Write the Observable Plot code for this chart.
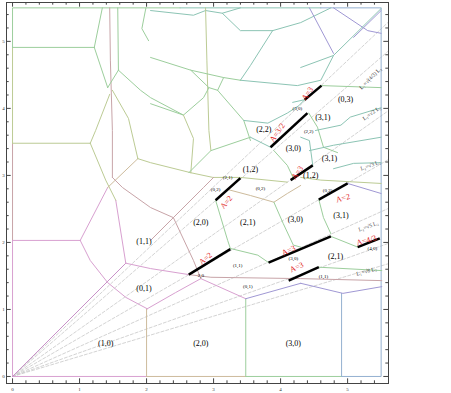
<!DOCTYPE html>
<html><head><meta charset="utf-8">
<script src="https://cdn.jsdelivr.net/npm/d3@7"></script>
<script src="https://cdn.jsdelivr.net/npm/@observablehq/plot@0.6"></script>
<style>body{margin:0;background:#fff}</style>
</head><body><div id="chart"></div>
<script>
const majorTicks=[0,1,2,3,4,5];
const minorTicks=[0.2,0.4,0.6,0.8,1.2,1.4,1.6,1.8,2.2,2.4,2.6,2.8,3.2,3.4,3.6,3.8,4.2,4.4,4.6,4.8,5.2,5.4];
const rayK=["9/8","4/3","2","3","5","8","11"];
const raySlope=[0.943,0.866,0.707,0.577,0.447,0.354,0.30];
// colours
const pk="#d8a0d0",mv="#c8a4a8",tn="#cdbb9c",ol="#bccb94",gr="#9cce9c",tl="#8cc4b4",bl="#94b0d0",pu="#a098d4";
const edges=[
 {c:pk,p:[[0,0],[0,2.03]]},
 {c:mv,p:[[0,2.03],[0,3.48]]},
 {c:ol,p:[[0,3.48],[0,4.91]]},
 {c:gr,p:[[0,4.91],[0,5.5],[2.5,5.5]]},
 {c:tl,p:[[2.5,5.5],[4.6,5.5]]},
 {c:bl,p:[[4.6,5.5],[5.5,5.5],[5.5,0],[4.91,0]]},
 {c:gr,p:[[4.91,0],[3.48,0]]},
 {c:tn,p:[[3.48,0],[2.0,0]]},
 {c:pk,p:[[2.0,0],[0,0]]},
 {c:gr,p:[[0,4.91],[1.22,4.91]]},
 {c:ol,p:[[0,3.48],[1.16,3.48]]},
 {c:pk,p:[[0,2.03],[1.01,2.03]]},
 {c:"#c890c8",p:[[0,0],[1.69,1.69]]},
 {c:tn,p:[[2.0,0],[2.0,1.01]]},
 {c:gr,p:[[3.48,0],[3.48,1.16]]},
 {c:bl,p:[[4.91,0],[4.91,1.24]]},
 {c:pk,p:[[1.01,2.03],[1.16,1.73],[1.42,1.40],[1.69,1.18],[2.01,1.01]]},
 {c:pk,p:[[1.69,1.69],[2.06,1.61],[2.63,1.52]]},
 {c:pk,p:[[2.01,1.01],[2.43,1.25],[2.81,1.46]]},
 {c:pk,p:[[2.81,1.46],[3.48,1.16]]},
 {c:pu,p:[[3.48,1.16],[4.30,1.39]]},
 {c:mv,p:[[2.63,1.52],[2.96,1.48],[4.30,1.46],[5.51,1.43]]},
 {c:pu,p:[[4.30,1.39],[4.93,1.24],[5.51,1.34]]},
 {c:gr,p:[[4.57,1.63],[5.51,1.58]]},
 {c:pk,p:[[1.69,1.69],[1.54,2.63]]},
 {c:mv,p:[[2.40,2.37],[2.70,1.73],[2.81,1.46]]},
 {c:pk,p:[[1.01,2.03],[1.42,2.82]]},
 {c:ol,p:[[1.16,3.48],[1.39,2.93],[1.54,2.63]]},
 {c:tn,p:[[1.87,3.25],[1.42,2.82]]},
 {c:mv,p:[[1.45,5.5],[1.46,4.72],[1.49,3.67],[1.49,2.97]]},
 {c:mv,p:[[1.49,2.97],[1.64,2.82],[2.06,2.52],[2.40,2.37]]},
 {c:ol,p:[[1.16,3.48],[1.24,3.67],[1.45,4.21]]},
 {c:gr,p:[[1.22,4.91],[1.42,4.31]]},
 {c:gr,p:[[1.22,4.91],[1.34,5.5]]},
 {c:ol,p:[[1.49,4.27],[1.73,3.85],[1.87,3.25]]},
 {c:gr,p:[[1.58,4.57],[1.91,4.27],[2.06,4.16],[2.55,3.90]]},
 {c:gr,p:[[1.58,4.57],[1.57,5.5]]},
 {c:gr,p:[[1.42,4.31],[1.58,4.57]]},
 {c:gr,p:[[1.99,5.5],[1.93,5.19],[2.03,5.01]]},
 {c:ol,p:[[1.87,3.25],[2.06,3.19],[2.66,3.04]]},
 {c:tl,p:[[2.06,5.46],[2.70,5.39],[2.88,5.46],[3.13,5.42],[3.40,5.5]]},
 {c:ol,p:[[2.88,5.5],[2.90,4.72],[2.93,3.67],[2.96,3.37]]},
 {c:tl,p:[[3.13,5.42],[3.40,5.16],[3.88,5.16]]},
 {c:tl,p:[[3.88,5.16],[4.30,5.28],[4.75,5.5]]},
 {c:tl,p:[[3.88,5.16],[3.55,4.64],[3.40,4.42]]},
 {c:tl,p:[[3.40,4.42],[4.25,4.34],[4.60,4.42],[4.79,4.79]]},
 {c:gr,p:[[2.06,4.76],[2.66,4.57],[3.15,4.46],[3.40,4.42]]},
 {c:gr,p:[[2.66,4.57],[2.93,4.31],[2.85,4.16],[2.55,3.90],[2.06,4.07]]},
 {c:gr,p:[[2.93,4.31],[3.06,4.27],[3.15,4.46]]},
 {c:gr,p:[[3.06,4.27],[3.45,3.82],[3.55,3.52]]},
 {c:tl,p:[[3.45,3.82],[3.81,3.78],[4.10,3.93],[4.27,4.04],[4.36,4.13]]},
 {c:ol,p:[[2.55,3.90],[2.70,3.55],[2.66,3.04]]},
 {c:gr,p:[[2.63,3.04],[2.96,3.37],[3.55,3.57]]},
 {c:ol,p:[[2.66,3.04],[2.99,2.97],[3.40,2.97],[4.10,2.90]]},
 {c:mv,p:[[3.0,2.97],[2.85,2.82],[2.40,2.37],[2.06,2.03]]},
 {c:gr,p:[[3.03,2.63],[3.21,2.03],[3.25,1.91]]},
 {c:gr,p:[[3.25,1.91],[3.66,1.81],[3.82,1.70]]},
 {c:tn,p:[[3.21,2.79],[3.55,2.70],[3.90,2.60],[4.10,2.73],[4.30,2.85]]},
 {c:gr,p:[[3.90,2.60],[4.04,2.28],[4.19,1.96],[4.30,1.93]]},
 {c:gr,p:[[3.90,3.37],[4.10,3.15],[4.19,2.96]]},
 {c:tl,p:[[3.55,3.57],[3.85,3.42]]},
 {c:tl,p:[[4.18,4.09],[4.36,4.13]]},
 {c:gr,p:[[4.42,3.93],[4.55,3.72],[4.64,3.42],[4.85,3.34]]},
 {c:tl,p:[[4.52,3.67],[4.90,3.75],[5.04,3.87],[5.5,4.01]]},
 {c:gr,p:[[4.61,4.34],[5.5,4.31]]},
 {c:pu,p:[[4.43,5.5],[4.79,4.82]]},
 {c:pu,p:[[4.79,5.5],[5.30,5.16],[5.5,5.12]]},
 {c:pu,p:[[5.09,5.06],[5.5,5.46]]},
 {c:tl,p:[[4.30,4.61],[4.79,4.79],[5.5,5.49]]},
 {c:tl,p:[[4.48,3.15],[4.43,3.52],[4.30,3.57]]},
 {c:tl,p:[[4.43,3.37],[4.79,3.45],[5.5,3.57]]},
 {c:tl,p:[[4.79,3.10],[5.09,3.18],[5.5,3.19]]},
 {c:ol,p:[[4.30,2.97],[4.60,2.93],[5.5,2.88]]},
 {c:pu,p:[[5.0,2.88],[5.5,2.73]]},
 {c:gr,p:[[4.57,2.64],[4.64,2.37],[4.75,2.13]]},
 {c:gr,p:[[4.75,2.09],[5.15,1.93]]}
];
const cellLabels=[
 {t:"(1,0)",x:1.39,y:0.49,s:8},{t:"(2,0)",x:2.81,y:0.49,s:8},{t:"(3,0)",x:4.19,y:0.49,s:8},
 {t:"(0,1)",x:1.96,y:1.31,s:8},{t:"(1,1)",x:1.96,y:2.01,s:8},
 {t:"(2,0)",x:2.81,y:2.30,s:8},{t:"(2,1)",x:3.51,y:2.30,s:8},{t:"(3,0)",x:4.22,y:2.34,s:8},
 {t:"(3,1)",x:4.90,y:2.40,s:8},{t:"(2,1)",x:4.82,y:1.79,s:8},
 {t:"(1,2)",x:3.55,y:3.09,s:8},{t:"(1,2)",x:4.45,y:3.0,s:8},{t:"(3,1)",x:4.73,y:3.25,s:8},
 {t:"(3,0)",x:4.19,y:3.40,s:8},{t:"(2,2)",x:3.75,y:3.69,s:8},{t:"(3,1)",x:4.63,y:3.87,s:8},
 {t:"(0,3)",x:4.97,y:4.13,s:8},
 {t:"(2,1)",x:3.21,y:2.97,s:5},{t:"(0,2)",x:3.03,y:2.79,s:5},{t:"(0,2)",x:3.70,y:2.81,s:5},
 {t:"(0,2)",x:4.70,y:2.78,s:5},{t:"(3,0)",x:4.25,y:4.0,s:5},{t:"(2,2)",x:4.42,y:3.66,s:5},
 {t:"(1,1)",x:3.36,y:1.66,s:5},{t:"2,0",x:2.81,y:1.51,s:5},{t:"(0,1)",x:3.51,y:1.34,s:5},
 {t:"(1,1)",x:4.64,y:1.49,s:5},{t:"(3,0)",x:4.19,y:1.76,s:5},{t:"(4,0)",x:5.37,y:1.91,s:5}
];
const aSegs=[
 {x1:3.03,y1:2.63,x2:3.40,y2:2.96},{x1:3.85,y1:3.42,x2:4.40,y2:3.93},{x1:4.36,y1:4.13,x2:4.61,y2:4.34},
 {x1:4.15,y1:2.93,x2:4.48,y2:3.15},{x1:4.57,y1:2.64,x2:5.0,y2:2.88},{x1:5.15,y1:1.93,x2:5.48,y2:2.06},
 {x1:3.82,y1:1.70,x2:4.75,y2:2.09},{x1:4.12,y1:1.43,x2:4.57,y2:1.63},{x1:2.63,y1:1.52,x2:3.25,y2:1.90}
];
const aLabels=[
 {t:"A=2",x:3.19,y:2.60,r:-50},{t:"A=3/2",x:3.95,y:3.64,r:-55},{t:"A=3",x:4.40,y:4.22,r:-55},
 {t:"A=3",x:4.25,y:3.04,r:-55},{t:"A=2",x:4.93,y:2.66,r:-15},{t:"A=4/3",x:5.28,y:2.03,r:-15},
 {t:"A=3",x:4.12,y:1.88,r:-25},{t:"A=3",x:4.24,y:1.63,r:-25},{t:"A=2",x:2.88,y:1.76,r:-40}
];
const rayLabels=[
 {t:"L₁=√(4/3) L₂",x:5.34,y:4.45,r:-45},{t:"L₁=√2 L₂",x:5.36,y:3.93,r:-35},
 {t:"L₁=√3 L₂",x:5.34,y:3.15,r:-20},{t:"L₁=√5 L₂",x:5.31,y:2.24,r:-20},{t:"L₁=√8 L₂",x:5.28,y:1.57,r:-15}
];
const rows=[];
edges.forEach((e,i)=>e.p.forEach(([x,y])=>rows.push({x,y,id:i,c:e.c})));
const rays=[];
raySlope.forEach((s,i)=>{rays.push({x:0,y:0,id:i});rays.push({x:6,y:6*s,id:i});});
const xmin=-0.09,xmax=5.61,ymin=-0.105,ymax=5.58;
const chart=Plot.plot({
 width:451,height:393,marginLeft:6,marginRight:63,marginTop:2,marginBottom:10,
 x:{domain:[xmin,xmax],axis:null},y:{domain:[ymin,ymax],axis:null},
 style:{fontFamily:"Liberation Serif",background:"#fff"},
 marks:[
  Plot.line(rays,{x:"x",y:"y",z:"id",stroke:"#c8c8c8",strokeDasharray:"3,2",strokeWidth:0.8,clip:true}),
  Plot.line(rows,{x:"x",y:"y",z:"id",stroke:"c",strokeWidth:1,curve:"linear"}),
  Plot.link(aSegs,{x1:"x1",y1:"y1",x2:"x2",y2:"y2",stroke:"#000",strokeWidth:2.5}),
  Plot.text(aLabels,{x:"x",y:"y",text:"t",rotate:"r",fill:"#e02020",fontSize:8}),
  Plot.text(cellLabels,{x:"x",y:"y",text:"t",fontSize:d=>d.s,fill:"black"}),
  Plot.text(rayLabels,{x:"x",y:"y",text:"t",rotate:"r",fontSize:5.5,fill:"#333"}),
  Plot.frame({stroke:"#444",strokeWidth:1}),
  Plot.ruleX(majorTicks,{x:d=>d,y1:ymin,y2:ymin+0.07,stroke:"#444"}),
  Plot.ruleX(minorTicks,{x:d=>d,y1:ymin,y2:ymin+0.04,stroke:"#444"}),
  Plot.ruleX(majorTicks,{x:d=>d,y1:ymax,y2:ymax-0.07,stroke:"#444"}),
  Plot.ruleX(minorTicks,{x:d=>d,y1:ymax,y2:ymax-0.04,stroke:"#444"}),
  Plot.ruleY(majorTicks,{y:d=>d,x1:xmin,x2:xmin+0.07,stroke:"#444"}),
  Plot.ruleY(minorTicks,{y:d=>d,x1:xmin,x2:xmin+0.04,stroke:"#444"}),
  Plot.ruleY(majorTicks,{y:d=>d,x1:xmax,x2:xmax-0.07,stroke:"#444"}),
  Plot.ruleY(minorTicks,{y:d=>d,x1:xmax,x2:xmax-0.04,stroke:"#444"}),
  Plot.text(majorTicks,{x:d=>d,y:ymin,text:d=>String(d),dy:6,fontSize:5,fill:"#333"}),
  Plot.text(majorTicks,{y:d=>d,x:xmin,text:d=>String(d),dx:-3,fontSize:5,fill:"#333"})
 ]
});
document.getElementById("chart").appendChild(chart);
</script></body></html>
